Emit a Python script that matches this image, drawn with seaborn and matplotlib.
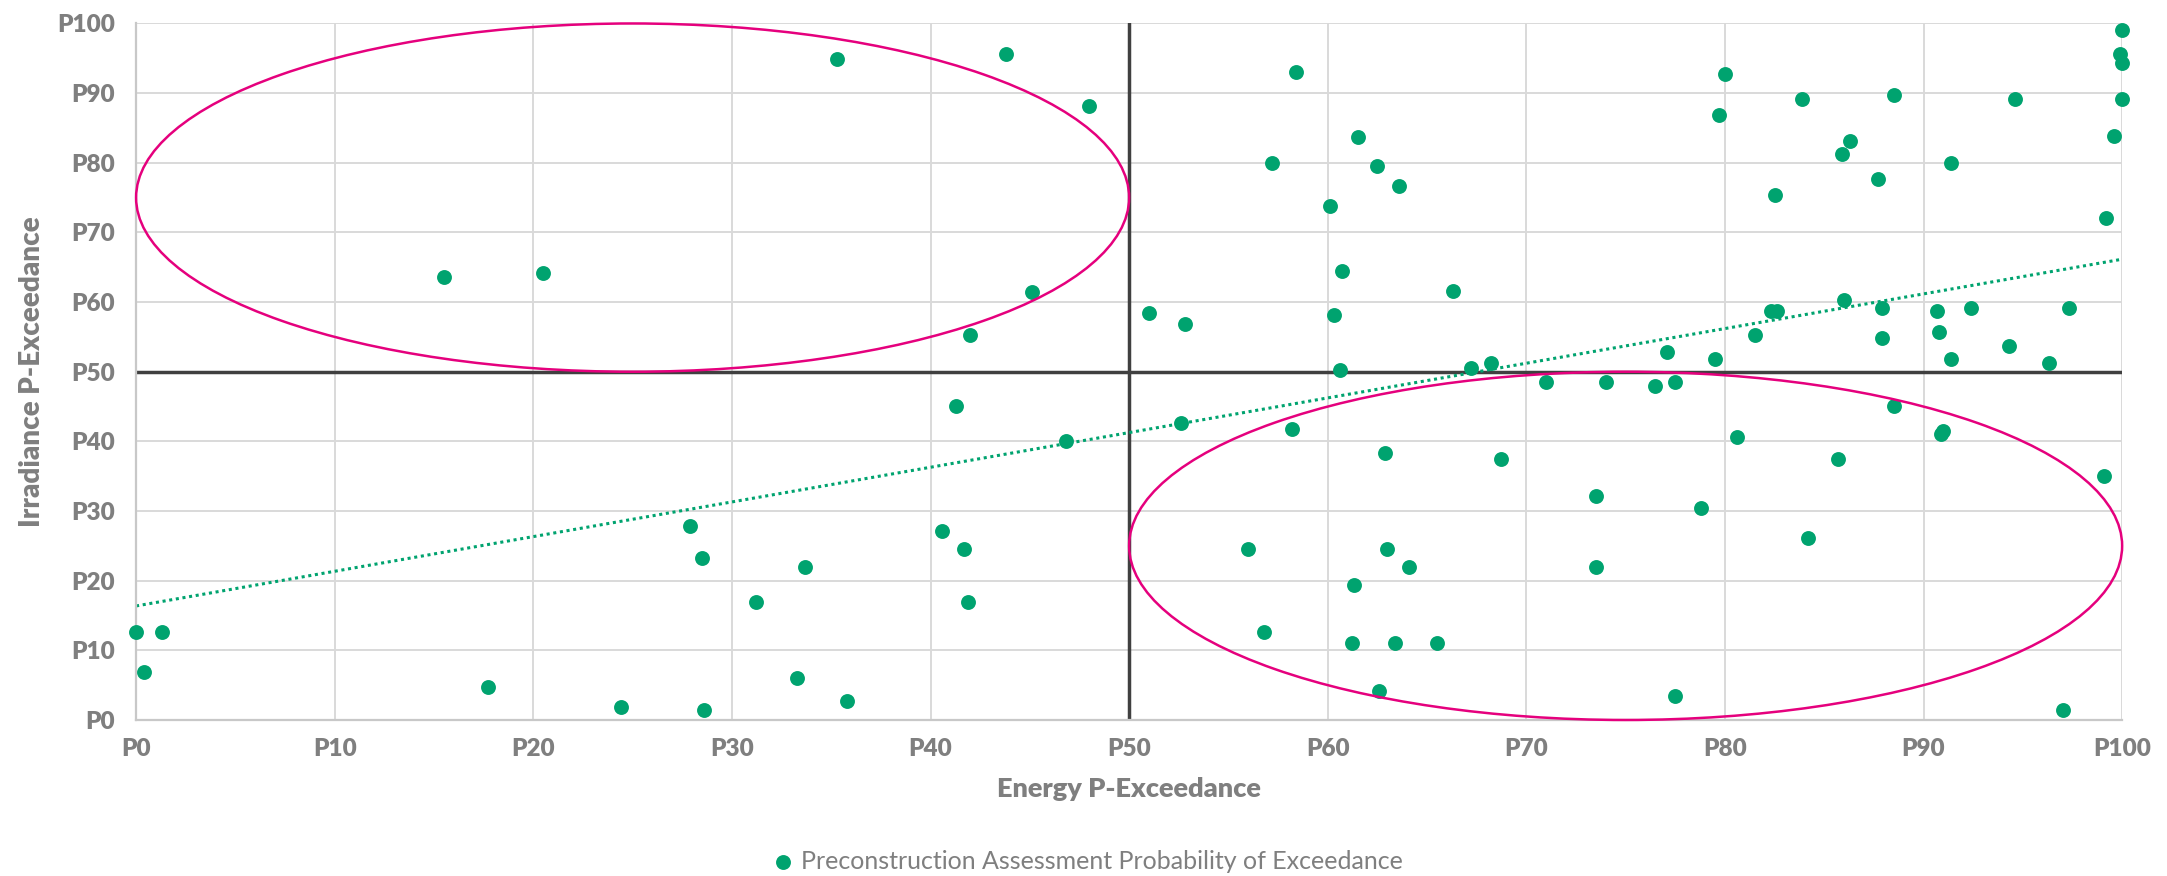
import numpy as np
import pandas as pd
import seaborn as sns
import matplotlib
matplotlib.use("Agg")
import matplotlib.pyplot as plt
from matplotlib.patches import Ellipse

# ---- data ----
energy_p = [0.0, 1.3, 0.4, 15.5, 17.7, 20.5, 24.4, 27.9, 28.5, 28.6,
            31.2, 33.3, 33.7, 35.3, 35.8, 40.6, 41.3, 41.7, 41.9, 42.0,
            43.8, 45.1, 46.8, 48.0,
            51.0, 52.6, 52.8, 56.0, 56.8, 57.2, 58.2, 58.4, 60.1, 60.3,
            60.6, 60.7, 61.2, 61.3, 61.5, 62.5, 62.6, 62.9, 63.0, 63.4,
            63.6, 64.1, 65.5, 66.3, 67.2, 68.2, 68.7, 71.0, 73.5, 73.5,
            74.0, 76.5, 77.1, 77.5, 77.5, 78.8, 79.5, 79.7, 80.0, 80.6,
            81.5, 82.3, 82.6, 82.5, 83.9, 84.2, 85.7, 85.9, 86.0, 86.3,
            87.7, 87.9, 87.9, 88.5, 88.5, 90.7, 90.8, 90.9, 91.0, 91.4,
            91.4, 92.4, 94.3, 94.6, 96.3, 97.0, 97.3, 99.1, 99.2, 99.6,
            99.9, 100.0, 100.0, 100.0]
irradiance_p = [12.7, 12.7, 6.9, 63.6, 4.7, 64.2, 1.8, 27.8, 23.2, 1.4,
                16.9, 6.0, 22.0, 94.9, 2.7, 27.1, 45.1, 24.5, 16.9, 55.3,
                95.6, 61.5, 40.0, 88.1,
                58.5, 42.6, 56.9, 24.5, 12.7, 80.0, 41.8, 93.0, 73.8, 58.2,
                50.2, 64.5, 11.0, 19.4, 83.7, 79.6, 4.2, 38.4, 24.5, 11.0,
                76.7, 22.0, 11.1, 61.6, 50.6, 51.2, 37.4, 48.5, 32.1, 22.0,
                48.5, 48.0, 52.8, 48.5, 3.5, 30.4, 51.8, 86.9, 92.7, 40.6,
                55.3, 58.7, 58.7, 75.4, 89.2, 26.1, 37.4, 81.2, 60.3, 83.1,
                77.6, 59.2, 54.9, 89.8, 45.1, 58.7, 55.7, 41.0, 41.5, 51.8,
                80.0, 59.2, 53.7, 89.2, 51.2, 1.4, 59.2, 35.1, 72.0, 83.8,
                95.6, 99.0, 94.3, 89.2]
tick_values = [0, 10, 20, 30, 40, 50, 60, 70, 80, 90, 100]
tick_labels = ["P0", "P10", "P20", "P30", "P40", "P50",
               "P60", "P70", "P80", "P90", "P100"]
series_name = "Preconstruction Assessment Probability of Exceedance"
x_title = "Energy P-Exceedance"
y_title = "Irradiance P-Exceedance"
threshold = 50
ellipse_centers = [(25, 75), (75, 25)]
ellipse_width = 50
ellipse_height = 50

df = pd.DataFrame({"energy": energy_p, "irradiance": irradiance_p})

# ---- styling ----
GREEN = "#00A36F"
MAGENTA = "#E5007D"
GREY_TXT = "#7F7F7F"
GRID = "#D9D9D9"
CROSS = "#404040"

sns.set_theme(style="whitegrid")
plt.rcParams["font.family"] = ["Lato", "DejaVu Sans"]

fig = plt.figure(figsize=(21.67, 8.76), dpi=100)
ax = fig.add_axes([0.0628, 0.1781, 0.9165, 0.7951])

sns.scatterplot(data=df, x="energy", y="irradiance", color=GREEN, s=115,
                linewidth=0, label=series_name, ax=ax, clip_on=False, zorder=3)
sns.regplot(data=df, x="energy", y="irradiance", scatter=False, ci=None,
            truncate=True, ax=ax,
            line_kws=dict(color=GREEN, lw=2.2, linestyle=(0, (1, 1.2)), zorder=2.5))

ax.axvline(threshold, color=CROSS, lw=2.5, zorder=2)
ax.axhline(threshold, color=CROSS, lw=2.5, zorder=2)

for c in ellipse_centers:
    ax.add_patch(Ellipse(c, ellipse_width, ellipse_height, fill=False,
                         edgecolor=MAGENTA, lw=1.8, zorder=4, clip_on=False))

ax.set_xlim(0, 100)
ax.set_ylim(0, 100)
ax.set_xticks(tick_values, tick_labels)
ax.set_yticks(tick_values, tick_labels)
for lab in ax.get_xticklabels() + ax.get_yticklabels():
    lab.set_fontweight("heavy")
    lab.set_fontsize(17.5)
    lab.set_color(GREY_TXT)
ax.tick_params(axis="x", length=0, pad=13)
ax.tick_params(axis="y", length=0, pad=15)

ax.grid(True, color=GRID, lw=1.4)
ax.set_axisbelow(True)
for s in ["top", "right"]:
    ax.spines[s].set_visible(False)
for s in ["left", "bottom"]:
    ax.spines[s].set_color("#C8C8C8")
    ax.spines[s].set_linewidth(1.6)

ax.set_xlabel(x_title, fontsize=19.5, fontweight="heavy", color=GREY_TXT, labelpad=12)
ax.set_ylabel(y_title, fontsize=20, fontweight="heavy", color=GREY_TXT, labelpad=9)

handles, labels = ax.get_legend_handles_labels()
if ax.get_legend() is not None:
    ax.get_legend().remove()
fig.legend(handles[:1], labels[:1], loc="center", bbox_to_anchor=(0.502, 0.017),
           frameon=False, handlelength=0.8, handletextpad=0.3, markerscale=1.0,
           prop=dict(family=["Lato", "DejaVu Sans"], weight="normal", size=18),
           labelcolor=GREY_TXT)

fig.savefig("out.png", dpi=100, facecolor="white")
